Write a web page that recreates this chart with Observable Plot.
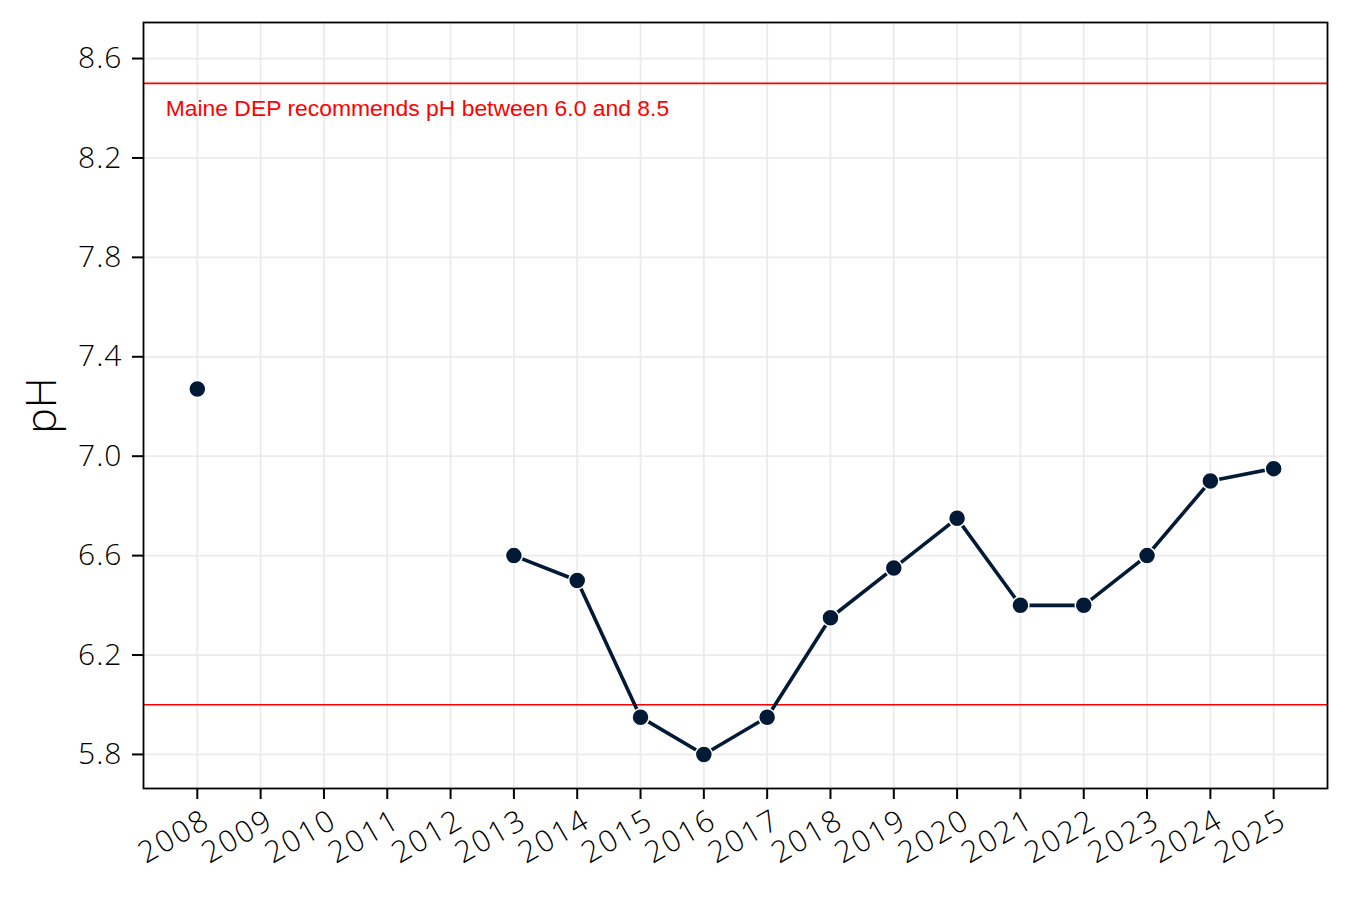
<!DOCTYPE html>
<html>
<head>
<meta charset="utf-8">
<script src="https://cdn.jsdelivr.net/npm/d3@7"></script>
<script src="https://cdn.jsdelivr.net/npm/@observablehq/plot@0.6"></script>
<style>
  html, body { margin: 0; padding: 0; background: #fff; }
  #chart svg { display: block; }
  #chart g[aria-label="x-axis tick label"] text { letter-spacing: 2px; }
  #chart g[aria-label="y-axis tick label"] text { letter-spacing: 1px; }
</style>
</head>
<body>
<div id="chart"></div>
<script>
const years = [2008, 2009, 2010, 2011, 2012, 2013, 2014, 2015, 2016, 2017, 2018, 2019, 2020, 2021, 2022, 2023, 2024, 2025];
const phValues = [7.27, null, null, null, null, 6.60, 6.50, 5.95, 5.80, 5.95, 6.35, 6.55, 6.75, 6.40, 6.40, 6.60, 6.90, 6.95];
const yTicks = [5.8, 6.2, 6.6, 7.0, 7.4, 7.8, 8.2, 8.6];
const limits = [6.0, 8.5];
const noteText = "Maine DEP recommends pH between 6.0 and 8.5";
const noteX = 2007.5;
const noteY = 8.4;
const yTitle = "pH";

const data = years.map((year, i) => ({year, ph: phValues[i]}));
const pts = data.filter(d => d.ph != null);

const navy = "#021a36";
const tickFont = "'Open Sans', 'DejaVu Sans', sans-serif";

const chart = Plot.plot({
  width: 1350,
  height: 900,
  marginLeft: 143,
  marginRight: 23,
  marginTop: 22,
  marginBottom: 112,
  style: {fontFamily: tickFont, background: "#fff"},
  x: {type: "linear", domain: [2007.15, 2025.85]},
  y: {domain: [5.663, 8.745]},
  marks: [
    Plot.ruleX(years, {stroke: "#ebebeb", strokeWidth: 1.8}),
    Plot.ruleY(yTicks, {stroke: "#ebebeb", strokeWidth: 1.8}),
    Plot.ruleY(limits, {stroke: "red", strokeWidth: 1.6}),
    Plot.text([noteText], {x: noteX, y: noteY, textAnchor: "start", fill: "red", fontSize: 22.9, fontFamily: "'Liberation Sans', Arial, sans-serif"}),
    Plot.line(data, {x: "year", y: "ph", stroke: navy, strokeWidth: 3.6}),
    Plot.dot(pts, {x: "year", y: "ph", r: 8.5, fill: navy, stroke: "#fff", strokeWidth: 1.5}),
    Plot.frame({stroke: "#000", strokeWidth: 1.8}),
    Plot.axisY({ticks: yTicks, tickFormat: d3.format(".1f"), tickSize: 11, tickPadding: 10, fontSize: 30, fontWeight: 300, strokeWidth: 2, label: null, color: "#000"}),
    Plot.axisX({ticks: years, tickFormat: () => "", tickSize: 11, strokeWidth: 2, label: null}),
    Plot.axisX({ticks: years, tickFormat: d => String(d), tickSize: 0, tickPadding: 22, tickRotate: -30, fontSize: 30, fontWeight: 300, label: null, dx: 10, dy: 7}),
    Plot.text([yTitle], {frameAnchor: "left", textAnchor: "middle", dx: -101, rotate: -90, fontSize: 43, fontWeight: 300, fill: "#000"})
  ]
});
document.getElementById("chart").appendChild(chart);
</script>
</body>
</html>
